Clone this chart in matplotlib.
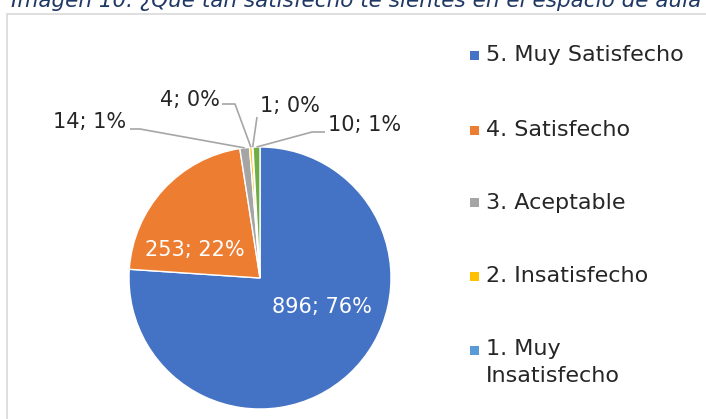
import matplotlib
import matplotlib.pyplot as plt
import numpy as np
from matplotlib.patches import Rectangle
matplotlib.use('agg')

# data
labels = ["5. Muy Satisfecho", "4. Satisfecho", "3. Aceptable",
          "2. Insatisfecho", "1. Muy\nInsatisfecho", ""]
counts = [896, 253, 14, 4, 1, 10]
percents = [76, 22, 1, 0, 0, 1]
colours = ["#4472C4", "#ED7D31", "#A5A5A5", "#FFC000", "#5B9BD5", "#70AD47"]
title = "Imagen 10. ¿Qué tan satisfecho te sientes en el espacio de aula"

W, H = 706, 419
plt.rcParams['font.family'] = ['DejaVu Sans']
fig = plt.figure(figsize=(W / 100, H / 100), dpi=100)
ax = fig.add_axes([0, 0, 1, 1])

# chart frame (cut by the image edges)
ax.add_patch(Rectangle((7, -20), 760, H - 14 + 20, fill=False,
                       edgecolor="#D9D9D9", linewidth=1.2))

# caption at top, partly cut off by the image edge as in the source
ax.text(701, H - 7, title, ha='right', va='baseline', fontsize=15.5,
        style='italic', color="#1F3864")

cx, cy, r = 260, H - 278, 131
wedges, _ = ax.pie(counts, colors=colours, startangle=90, counterclock=False,
                   radius=r, center=(cx, cy), frame=True,
                   wedgeprops=dict(edgecolor='white', linewidth=1))
ax.set_xlim(0, W)
ax.set_ylim(0, H)
ax.axis('off')

text_of = ["%d; %d%%" % (c, p) for c, p in zip(counts, percents)]

# inside labels
inside = {0: (322, H - 307), 1: (195, H - 250)}
for i, pos in inside.items():
    ax.text(pos[0], pos[1], text_of[i], ha='center', va='center',
            fontsize=15, color='white')

# outside labels with leader lines: text pos, line start, elbow
outside = {
    2: ((90, H - 122), (130, H - 129), (140, H - 129)),
    3: ((190, H - 100), (222, H - 104), (235, H - 104)),
    4: ((290, H - 106), (257, H - 117), (257, H - 117)),
    5: ((365, H - 125), (325, H - 132), (312, H - 132)),
}
for i, (tpos, p0, p1) in outside.items():
    w = wedges[i]
    ang = np.deg2rad((w.theta1 + w.theta2) / 2.0)
    ex = cx + r * np.cos(ang)
    ey = cy + r * np.sin(ang)
    ax.plot([p0[0], p1[0], ex], [p0[1], p1[1], ey], color="#A6A6A6",
            linewidth=1.2, solid_capstyle='butt')
    ax.text(tpos[0], tpos[1], text_of[i], ha='center', va='center',
            fontsize=15, color="#262626")

# legend
leg_y = [55, 130, 203, 276, 350]
for i, y in enumerate(leg_y):
    ax.add_patch(Rectangle((470, H - y - 4.5), 9, 9, facecolor=colours[i],
                           edgecolor='none'))
    if "\n" in labels[i]:
        ax.text(486, H - y + 11, labels[i], ha='left', va='top',
                fontsize=16, color="#262626", linespacing=1.45)
    else:
        ax.text(486, H - y, labels[i], ha='left', va='center',
                fontsize=16, color="#262626")

fig.savefig("out.png", dpi=100)
